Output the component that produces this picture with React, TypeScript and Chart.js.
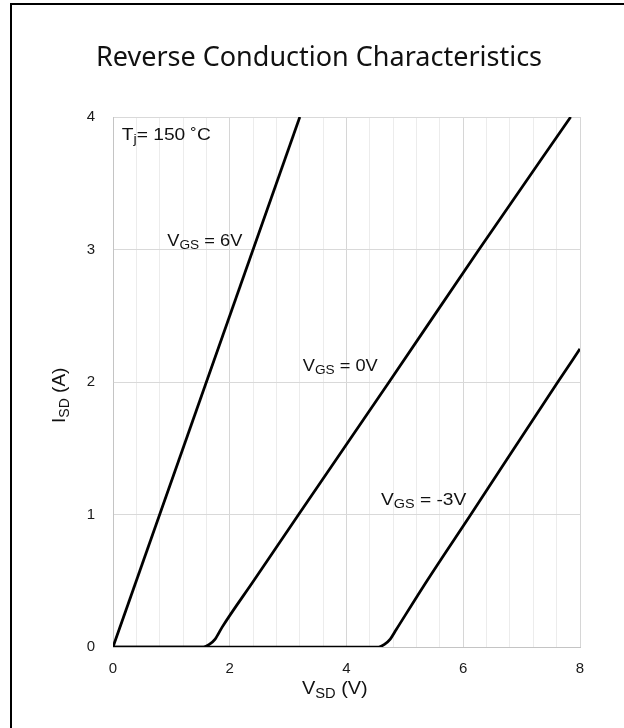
import React, { useEffect, useRef } from "react";
import { Chart, registerables } from "chart.js";

Chart.register(...registerables);

// ---- data ----
const vgs6X = [0, 3.2];
const vgs6Y = [0, 4];

const vgs0X = [0, 1.55, 1.65, 1.75, 1.87, 2.41, 3.18, 4.73, 6.27, 7.84];
const vgs0Y = [0, 0, 0.02, 0.06, 0.15, 0.5, 1, 2, 3, 4];

const vgsM3X = [0, 4.55, 4.65, 4.75, 4.85, 5.38, 6.13, 7.62, 8];
const vgsM3Y = [0, 0, 0.02, 0.06, 0.13, 0.5, 1, 2, 2.25];

const seriesNames = ["VGS = 6V", "VGS = 0V", "VGS = -3V"];
const xRange = [0, 8];
const yRange = [0, 4];
const xMinorStep = 0.4;
const xMajorStep = 2;
const yStep = 1;

const chartTitle = "Reverse Conduction Characteristics";

type Part = [string, boolean];

const SANS = "'Liberation Sans', Arial, sans-serif";

function drawRich(
  ctx: CanvasRenderingContext2D,
  x: number,
  y: number,
  parts: Part[],
  size: number,
  stretch: number,
  align: "left" | "center"
) {
  ctx.save();
  ctx.translate(x, y);
  ctx.scale(stretch, 1);
  ctx.textBaseline = "alphabetic";
  ctx.textAlign = "left";
  let total = 0;
  for (const [t, sub] of parts) {
    ctx.font = `${sub ? Math.round(size * 0.72) : size}px ${SANS}`;
    total += ctx.measureText(t).width;
  }
  let cx = align === "center" ? -total / 2 : 0;
  for (const [t, sub] of parts) {
    ctx.font = `${sub ? Math.round(size * 0.72) : size}px ${SANS}`;
    ctx.fillText(t, cx, sub ? size * 0.2 : 0);
    cx += ctx.measureText(t).width;
  }
  ctx.restore();
}

const framePlugin = {
  id: "framePlugin",
  beforeDraw(chart: any) {
    const ctx: CanvasRenderingContext2D = chart.ctx;
    ctx.save();
    ctx.fillStyle = "#fff";
    ctx.fillRect(0, 0, chart.width, chart.height);
    ctx.strokeStyle = "#000";
    ctx.lineWidth = 2;
    ctx.beginPath();
    ctx.moveTo(11, chart.height);
    ctx.lineTo(11, 4);
    ctx.lineTo(chart.width, 4);
    ctx.stroke();
    ctx.restore();
  },
};

const textPlugin = {
  id: "textPlugin",
  afterDraw(chart: any) {
    const ctx: CanvasRenderingContext2D = chart.ctx;
    const xs = chart.scales.x;
    const ys = chart.scales.y;
    const area = chart.chartArea;
    ctx.save();
    ctx.fillStyle = "#111";

    // title
    ctx.font = "27px 'Noto Sans', 'Open Sans', sans-serif";
    ctx.textAlign = "center";
    ctx.textBaseline = "alphabetic";
    ctx.fillText(chartTitle, area.left + 206, 66);

    // in-plot labels
    drawRich(ctx, xs.getPixelForValue(0.15), ys.getPixelForValue(3.83), [["T", false], ["j", true], ["= 150 ˚C", false]], 16, 1.2, "left");
    drawRich(ctx, xs.getPixelForValue(0.93), ys.getPixelForValue(3.03), [["V", false], ["GS", true], [" = 6V", false]], 16, 1.14, "left");
    drawRich(ctx, xs.getPixelForValue(3.25), ys.getPixelForValue(2.085), [["V", false], ["GS", true], [" = 0V", false]], 16, 1.14, "left");
    drawRich(ctx, xs.getPixelForValue(4.59), ys.getPixelForValue(1.07), [["V", false], ["GS", true], [" = -3V", false]], 16, 1.2, "left");

    // axis titles
    drawRich(ctx, xs.getPixelForValue(3.8), area.bottom + 47, [["V", false], ["SD", true], [" (V)", false]], 19, 1.05, "center");
    ctx.save();
    ctx.translate(area.left - 48, ys.getPixelForValue(1.9));
    ctx.rotate(-Math.PI / 2);
    drawRich(ctx, 0, 0, [["I", false], ["SD", true], [" (A)", false]], 19, 1.0, "center");
    ctx.restore();

    ctx.restore();
  },
};

const isMajor = (v: number) => Math.abs(v / xMajorStep - Math.round(v / xMajorStep)) < 1e-6;

export default function App() {
  const ref = useRef<HTMLCanvasElement | null>(null);

  useEffect(() => {
    if (!ref.current) return;
    const mk = (xs: number[], ys: number[]) => xs.map((x, i) => ({ x, y: ys[i] }));
    const lineStyle = {
      borderColor: "#000",
      borderWidth: 2.75,
      pointRadius: 0,
      fill: false,
      cubicInterpolationMode: "monotone" as const,
    };
    const chart = new Chart(ref.current, {
      type: "line",
      data: {
        datasets: [
          { label: seriesNames[0], data: mk(vgs6X, vgs6Y), ...lineStyle },
          { label: seriesNames[1], data: mk(vgs0X, vgs0Y), ...lineStyle },
          { label: seriesNames[2], data: mk(vgsM3X, vgsM3Y), ...lineStyle },
        ],
      },
      options: {
        animation: false,
        responsive: false,
        devicePixelRatio: 1,
        layout: { padding: { left: 0, right: 44, top: 117, bottom: 0 } },
        plugins: {
          legend: { display: false },
          tooltip: { enabled: false },
          title: { display: false },
        },
        scales: {
          x: {
            type: "linear",
            min: xRange[0],
            max: xRange[1],
            afterFit: (s: any) => {
              s.height = 81;
            },
            grid: {
              drawTicks: false,
              color: (c: any) => (c.tick && isMajor(c.tick.value) ? "#d6d6d6" : "#ececec"),
              lineWidth: 1,
            },
            border: { color: "#c4c4c4", width: 1 },
            ticks: {
              stepSize: xMinorStep,
              autoSkip: false,
              maxRotation: 0,
              padding: 13,
              color: "#1a1a1a",
              font: { family: SANS, size: 15 },
              callback: (v: any) => (isMajor(Number(v)) ? String(Math.round(Number(v))) : ""),
            },
          },
          y: {
            type: "linear",
            min: yRange[0],
            max: yRange[1],
            afterFit: (s: any) => {
              s.width = 113;
            },
            grid: { drawTicks: false, color: "#d9d9d9", lineWidth: 1 },
            border: { color: "#c4c4c4", width: 1 },
            ticks: {
              stepSize: yStep,
              padding: 18,
              color: "#1a1a1a",
              font: { family: SANS, size: 15 },
            },
          },
        },
      },
      plugins: [framePlugin, textPlugin],
    });
    return () => chart.destroy();
  }, []);

  return (
    <div
      style={{
        position: "absolute",
        left: 0,
        top: 0,
        width: 624,
        height: 728,
        overflow: "hidden",
        background: "#fff",
      }}
    >
      <canvas
        ref={ref}
        width={624}
        height={728}
        style={{ position: "absolute", left: 0, top: 0, width: 624, height: 728 }}
      />
    </div>
  );
}
